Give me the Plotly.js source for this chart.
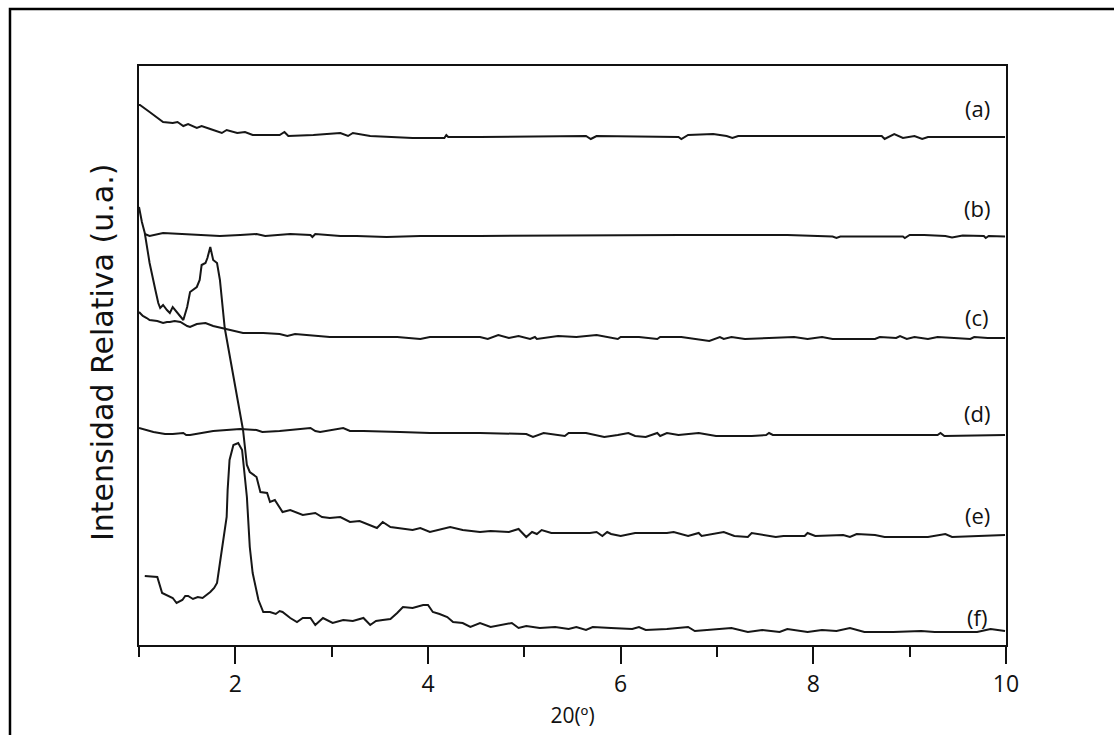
<!DOCTYPE html>
<html>
<head>
<meta charset="utf-8">
<script src="https://cdn.plot.ly/plotly-3.0.1.min.js"></script>
<style>
html,body{margin:0;padding:0;background:#fff;}
#chart{width:1114px;height:735px;}
</style>
</head>
<body>
<div id="chart"></div>
<script>
// 2θ (degrees) and relative intensity (a.u., curves already offset as in the figure)
const xA = [1.00,1.01,1.11,1.25,1.35,1.40,1.46,1.51,1.60,1.65,1.74,1.86,1.91,2.02,2.10,2.18,2.46,2.51,2.55,2.81,3.09,3.17,3.22,3.40,3.84,4.17,4.19,4.21,4.54,5.64,5.69,5.75,6.60,6.63,6.70,6.96,7.10,7.16,7.22,8.71,8.74,8.84,8.93,9.05,9.13,9.19,9.99];
const yA = [540,540,533,523,522,523,519,521,517,519,516,512,515,512,513,510,510,513,509,510,512,509,512,509,507,507,510,508,508,509,506,509,508,506,510,511,509,507,509,509,506,511,507,509,506,508,508];

const xB = [1.06,1.11,1.25,1.43,1.63,1.84,2.05,2.22,2.31,2.57,2.78,2.80,2.83,2.98,3.09,3.26,3.57,3.92,4.54,6.63,7.73,8.20,8.24,8.28,8.93,8.95,9.00,9.15,9.37,9.44,9.55,9.77,9.79,9.82,9.99];
const yB = [411,409,412,411,410,409,410,411,409,411,410,408,411,410,409,409,408,409,409,410,410,408.5,407,408.5,408.5,407,410,410,409,407.5,409.5,409,407,409,408.5];

const xC = [1.00,1.04,1.08,1.11,1.19,1.25,1.29,1.32,1.37,1.43,1.50,1.53,1.60,1.69,1.77,1.86,1.94,2.00,2.05,2.08,2.29,2.46,2.54,2.62,2.98,3.33,3.68,3.92,4.02,4.54,4.62,4.73,4.84,4.94,5.06,5.11,5.13,5.35,5.54,5.75,5.97,6.00,6.19,6.38,6.41,6.63,6.77,6.92,7.03,7.07,7.15,7.29,7.54,7.80,7.94,8.09,8.20,8.64,8.69,8.86,8.90,8.97,9.05,9.19,9.29,9.63,9.67,9.81,9.99];
const yC = [333,329,327,325,324,322,323,323,324,323,319,318,321,322,319,317,315,314,313,312,312,311,309,311,308,308,308,306,308,308,306,310,307,309,306,308,306,309,308,310,306,308,308,306,308,308,306,304,308,306,308,306,307,308,306,308,306,306,308,307,309,306,308,306,308,306,308,307,307];

const xD = [1.00,1.15,1.27,1.35,1.46,1.49,1.53,1.77,2.05,2.22,2.28,2.46,2.78,2.83,2.88,3.12,3.19,3.33,3.71,4.02,4.54,5.02,5.09,5.20,5.42,5.46,5.64,5.83,5.97,6.08,6.15,6.26,6.38,6.41,6.48,6.60,6.81,6.99,7.36,7.51,7.54,7.58,9.29,9.32,9.36,9.99];
const yD = [217,213,211,211,212,210,210,214,216,215,213,214,217,214,213,217,214,214,213,212,212,211,208,212,209,212,212,208,210,212,209,208,212,209,212,210,212,209,209,210,212,210,210,212,209,210];

const xE = [1.00,1.03,1.06,1.11,1.17,1.20,1.22,1.25,1.29,1.32,1.35,1.39,1.43,1.46,1.50,1.53,1.60,1.63,1.65,1.69,1.71,1.74,1.77,1.81,1.84,1.87,1.89,2.08,2.12,2.15,2.22,2.26,2.33,2.36,2.41,2.49,2.57,2.70,2.83,2.90,2.98,3.09,3.19,3.29,3.47,3.53,3.61,3.84,3.92,4.02,4.23,4.36,4.54,4.65,4.84,4.94,5.02,5.08,5.13,5.18,5.28,5.46,5.49,5.68,5.75,5.81,5.86,5.90,6.00,6.15,6.48,6.55,6.70,6.81,6.84,7.07,7.18,7.32,7.36,7.61,7.69,7.91,7.94,8.02,8.31,8.38,8.45,8.64,8.74,9.19,9.37,9.44,9.99];
const yE = [438,423,412,382,355,342,337,340,335,332,338,333,328,325,338,353,358,365,380,382,387,398,385,382,365,332,317,215,180,173,168,153,152,143,145,133,135,130,132,128,127,128,123,124,117,123,118,115,117,113,118,115,113,114,113,116,108,113,111,115,112,112,112,112,113,109,113,111,109,112,112,113,109,112,109,113,109,108,112,108,109,109,112,109,110,108,111,110,108,108,111,108,110];

const xF = [1.06,1.19,1.24,1.30,1.35,1.39,1.45,1.48,1.51,1.56,1.61,1.66,1.74,1.78,1.81,1.84,1.87,1.89,1.91,1.92,1.94,1.98,2.03,2.07,2.10,2.12,2.15,2.18,2.24,2.29,2.36,2.42,2.46,2.49,2.57,2.64,2.70,2.78,2.83,2.91,3.01,3.12,3.22,3.33,3.40,3.46,3.53,3.61,3.68,3.74,3.84,3.95,4.00,4.05,4.12,4.20,4.26,4.36,4.44,4.54,4.65,4.77,4.87,4.94,5.02,5.16,5.32,5.46,5.54,5.64,5.71,5.90,6.12,6.19,6.26,6.48,6.70,6.77,6.99,7.15,7.32,7.47,7.65,7.73,7.94,8.09,8.24,8.38,8.53,8.83,9.12,9.26,9.70,9.84,9.99];
const yF = [69,68,52,49,47,42,45,49,49,46,48,47,53,57,62,82,102,115,128,155,185,200,202,195,168,148,98,72,45,33,33,31,34,33,27,23,27,27,20,27,22,25,24,27,20,24,25,26,32,38,37,40,40,33,31,28,23,22,18,22,18,20,22,17,19,17,18,16,18,15,18,17,16,18,15,16,18,14,16,17,13,15,13,16,13,15,14,17,13,13,14,13,13,16,14];

const seriesLabels = ['(a)','(b)','(c)','(d)','(e)','(f)'];
const labelX = [9.70,9.70,9.70,9.70,9.70,9.70];
const labelY = [537,437,328,232,130,28];

const xTitle = '20(º)';
const yTitle = 'Intensidad Relativa (u.a.)';

const lineColor = '#161616';
const allX = [xA,xB,xC,xD,xE,xF];
const allY = [yA,yB,yC,yD,yE,yF];
const traces = allX.map((xs,i)=>({
  x: xs, y: allY[i], type:'scatter', mode:'lines', name: seriesLabels[i],
  line:{color:lineColor, width:2, shape:'linear'}, hoverinfo:'x+y'
}));

const annotations = seriesLabels.map((t,i)=>({
  x: labelX[i], y: labelY[i], xref:'x', yref:'y', text:t, showarrow:false,
  xanchor:'center', yanchor:'middle',
  font:{family:'Open Sans, Noto Sans, sans-serif', size:22, color:'#111'}
}));
annotations.push({
  x:-0.0427, y:0.506, xref:'paper', yref:'paper', text:yTitle, showarrow:false,
  textangle:-90, xanchor:'center', yanchor:'middle',
  font:{family:'DejaVu Sans, Liberation Sans, sans-serif', size:30, color:'#111'}
});

const layout = {
  width:1114, height:735,
  margin:{l:139, r:108, t:66, b:90, pad:0},
  paper_bgcolor:'#fff', plot_bgcolor:'#fff',
  showlegend:false,
  xaxis:{
    range:[1,10], tick0:0, dtick:2, ticks:'outside', ticklen:17, tickwidth:2, tickcolor:'#111',
    showline:true, linecolor:'#111', linewidth:2, mirror:true, showgrid:false, zeroline:false,
    tickfont:{family:'Open Sans, Noto Sans, sans-serif', size:23, color:'#111'},
    minor:{dtick:1, ticks:'outside', ticklen:10, tickwidth:2, tickcolor:'#111', showgrid:false},
    title:{text:xTitle, standoff:11, font:{family:'Open Sans, Noto Sans, sans-serif', size:21, color:'#111'}},
    automargin:false
  },
  yaxis:{
    range:[0,579], showticklabels:false, ticks:'', showline:true, linecolor:'#111', linewidth:2,
    mirror:true, showgrid:false, zeroline:false, automargin:false
  },
  annotations: annotations,
  shapes:[{
    type:'rect', xref:'paper', yref:'paper', layer:'above',
    x0:-0.1488, x1:1.2, y0:-0.3, y1:1.0984,
    line:{color:'#000', width:2.5}, fillcolor:'rgba(0,0,0,0)'
  }]
};

Plotly.newPlot('chart', traces, layout, {staticPlot:true, displayModeBar:false});
</script>
</body>
</html>
